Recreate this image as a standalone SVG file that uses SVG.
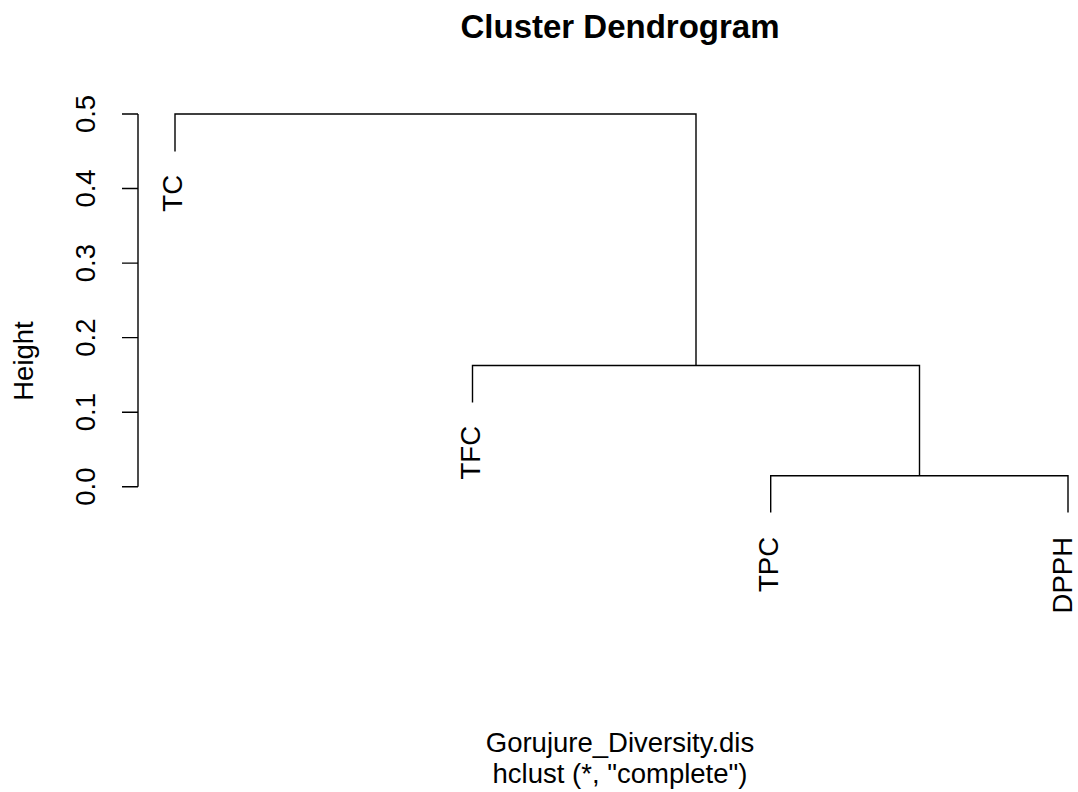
<svg xmlns="http://www.w3.org/2000/svg" width="1078" height="792" viewBox="0 0 1078 792">
<style>
text{font-family:"Liberation Sans",Arial,sans-serif;fill:#000}
.ax{font-size:27.5px}
.lab{font-size:27.5px}
.title{font-size:33px;font-weight:bold}
.ln{stroke:#000;stroke-width:1.4;fill:none;stroke-linecap:butt}
</style>
<rect width="1078" height="792" fill="#fff"/>
<text class="title" x="620" y="38" text-anchor="middle">Cluster Dendrogram</text>
<g id="axis">
<path class="ln" d="M138,114V486.7M122,114H138M122,188.5H138M122,263.1H138M122,337.6H138M122,412.2H138M122,486.7H138"/>
<text class="ax" transform="translate(95,114) rotate(-90)" text-anchor="middle">0.5</text>
<text class="ax" transform="translate(95,188.5) rotate(-90)" text-anchor="middle">0.4</text>
<text class="ax" transform="translate(95,263.1) rotate(-90)" text-anchor="middle">0.3</text>
<text class="ax" transform="translate(95,337.6) rotate(-90)" text-anchor="middle">0.2</text>
<text class="ax" transform="translate(95,412.2) rotate(-90)" text-anchor="middle">0.1</text>
<text class="ax" transform="translate(95,486.7) rotate(-90)" text-anchor="middle">0.0</text>
<text class="ax" transform="translate(33,361) rotate(-90)" text-anchor="middle">Height</text>
</g>
<g id="connectors">
<path class="ln" d="M175,151.5V114H696V365.5"/>
<path class="ln" d="M472.5,402.5V365.5H919.5V475.7"/>
<path class="ln" d="M770.7,512.5V475.7H1068V512.5"/>
</g>
<g id="TC"><text class="lab" transform="translate(182,175) rotate(-90)" text-anchor="end">TC</text></g>
<g id="TFC"><text class="lab" transform="translate(480,426) rotate(-90)" text-anchor="end">TFC</text></g>
<g id="TPC"><text class="lab" transform="translate(777.5,537) rotate(-90)" text-anchor="end">TPC</text></g>
<g id="DPPH"><text class="lab" transform="translate(1072,537) rotate(-90)" text-anchor="end">DPPH</text></g>
<text class="lab" x="620" y="752" text-anchor="middle">Gorujure_Diversity.dis</text>
<text class="lab" x="620" y="783" text-anchor="middle">hclust (*, "complete")</text>
</svg>
